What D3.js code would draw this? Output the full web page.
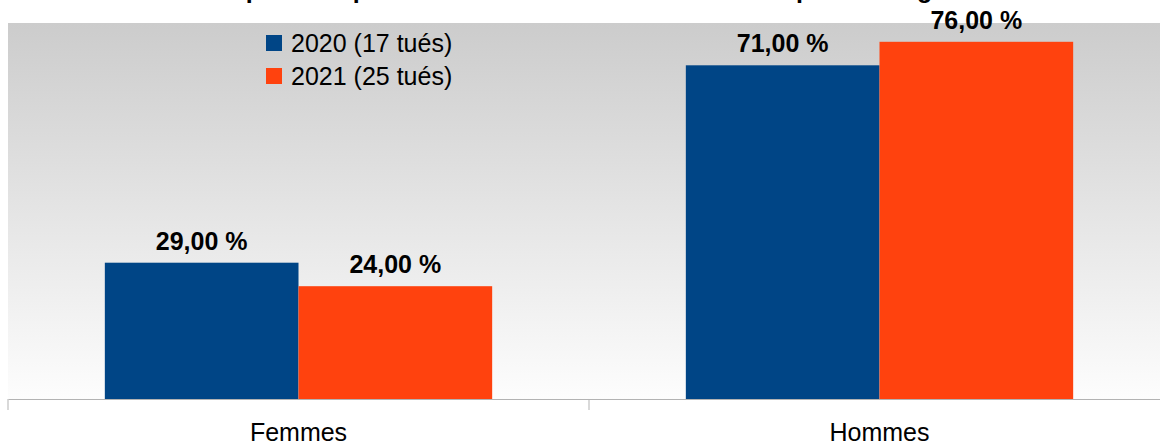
<!DOCTYPE html>
<html lang="fr">
<head>
    <meta charset="UTF-8">
    <title>Tués par sexe</title>
    <script src="https://cdn.jsdelivr.net/npm/d3@7"></script>
    <style>
        body { margin: 0; background: #fff; }
        text { font-family: "Liberation Sans", Arial, sans-serif; }
    </style>
</head>
<body>
    <svg id="svg" width="1160" height="446"></svg>
    <script>
        const categories = ["Femmes", "Hommes"]
        const series = ["2020 (17 tués)", "2021 (25 tués)"]
        const values2020 = [29, 71]
        const values2021 = [24, 76]
        const yTicks = [0, 80]
        const title = "Répartition par sexe des tués en 2020 et 2021 en pourcentage"

        const colors = ["#004586", "#ff420e"]
        const data = categories.map((c, i) => ({cat: c, vals: [values2020[i], values2021[i]]}))

        const svg = d3.select("#svg")
        const margin = {top: 23, left: 8, bottom: 47}
        const plotRight = 1170
        const plotBottom = 446 - margin.bottom

        const defs = svg.append("defs")
        const grad = defs.append("linearGradient").attr("id", "bg")
            .attr("x1", 0).attr("y1", 0).attr("x2", 0).attr("y2", 1)
        grad.append("stop").attr("offset", "0%").attr("stop-color", "#cccccc")
        grad.append("stop").attr("offset", "100%").attr("stop-color", "#fdfdfd")

        const xScale = d3.scaleBand()
            .domain(categories)
            .range([margin.left, plotRight])

        const xInner = d3.scaleBand()
            .domain(series)
            .range([0, xScale.bandwidth()])
            .paddingOuter(0.5)

        const yScale = d3.scaleLinear()
            .domain(d3.extent(yTicks))
            .range([plotBottom, margin.top])

        // plot background
        svg.append("rect")
            .attr("x", margin.left).attr("y", yScale(80))
            .attr("width", plotRight - margin.left)
            .attr("height", yScale(0) - yScale(80))
            .attr("fill", "url(#bg)")

        // title, cut by the top edge as in the original export
        svg.append("text")
            .attr("x", 580).attr("y", -2)
            .attr("text-anchor", "middle")
            .attr("font-size", 25).attr("font-weight", "bold")
            .text(title)

        // bars
        const groups = svg.selectAll(".cat").data(data).join("g")
            .attr("class", "cat")
            .attr("transform", d => `translate(${xScale(d.cat)},0)`)

        groups.selectAll("rect").data(d => d.vals.map((v, i) => ({s: series[i], v, i}))).join("rect")
            .attr("x", d => xInner(d.s))
            .attr("y", d => yScale(d.v))
            .attr("width", xInner.bandwidth())
            .attr("height", d => yScale(0) - yScale(d.v))
            .attr("fill", d => colors[d.i])

        groups.selectAll(".lbl").data(d => d.vals.map((v, i) => ({s: series[i], v}))).join("text")
            .attr("class", "lbl")
            .attr("x", d => xInner(d.s) + xInner.bandwidth() / 2)
            .attr("y", d => yScale(d.v) - 13)
            .attr("text-anchor", "middle")
            .attr("font-size", 25).attr("font-weight", "bold")
            .text(d => d3.format(".2f")(d.v).replace(".", ",") + " %")

        // x axis
        const xAxis = d3.axisBottom(xScale).tickSize(0).tickPadding(24)
        const ax = svg.append("g").attr("transform", `translate(0,${plotBottom})`).call(xAxis)
        ax.select(".domain").attr("stroke", "#b3b3b3")
        ax.selectAll("text").attr("font-size", 25).attr("fill", "#000")
            .style("font-family", '"Liberation Sans", Arial, sans-serif')
        const bounds = categories.map(c => xScale(c)).concat([plotRight])
        ax.selectAll(".bnd").data(bounds).join("line")
            .attr("class", "bnd")
            .attr("x1", d => d).attr("x2", d => d)
            .attr("y1", 0).attr("y2", 11)
            .attr("stroke", "#b3b3b3")

        // legend
        const legend = svg.append("g").attr("transform", "translate(266,35)")
        const li = legend.selectAll("g").data(series).join("g")
            .attr("transform", (d, i) => `translate(0,${i * 33})`)
        li.append("rect").attr("width", 16).attr("height", 16)
            .attr("fill", (d, i) => colors[i])
        li.append("text").attr("x", 25).attr("y", 17)
            .attr("font-size", 25)
            .text(d => d)
    </script>
</body>
</html>
